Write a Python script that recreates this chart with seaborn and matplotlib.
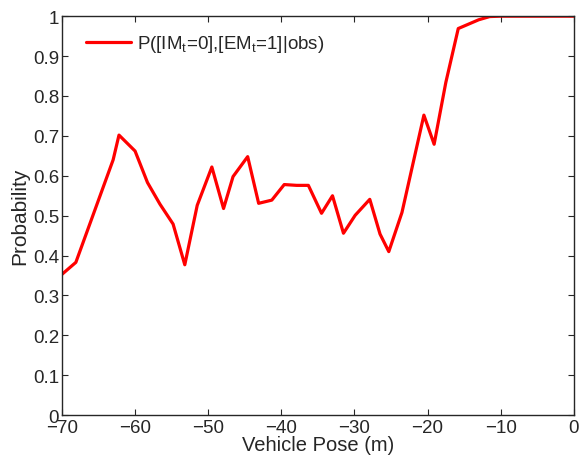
import numpy as np
import pandas as pd
import matplotlib
matplotlib.use("Agg")
import matplotlib.pyplot as plt
import seaborn as sns

# Values
pose = [-70, -68.1, -63.0, -62.2, -60.0, -58.3, -56.6, -54.8, -53.2, -51.5,
        -49.5, -47.9, -46.6, -44.6, -43.1, -41.3, -39.6, -37.9, -36.3, -34.5,
        -33.0, -31.5, -29.9, -27.9, -26.5, -25.3, -23.5, -20.5, -19.1, -17.5,
        -15.8, -13.0, -11.5, -10.0, -5.0, 0.0]
prob = [0.353, 0.383, 0.640, 0.702, 0.662, 0.583, 0.529, 0.479, 0.377, 0.526,
        0.622, 0.518, 0.598, 0.648, 0.531, 0.539, 0.578, 0.576, 0.576, 0.506,
        0.550, 0.456, 0.501, 0.541, 0.454, 0.410, 0.508, 0.752, 0.679, 0.834,
        0.969, 0.991, 0.999, 1.0, 1.0, 1.0]
series_label = r"P([IM$_\mathrm{t}$=0],[EM$_\mathrm{t}$=1]|obs)"

df = pd.DataFrame({"pose": pose, "prob": prob})

sns.set_style("ticks")
plt.rcParams["font.family"] = ["Liberation Sans", "DejaVu Sans"]
plt.rcParams["mathtext.fontset"] = "custom"
plt.rcParams["mathtext.rm"] = "Liberation Sans"
plt.rcParams["mathtext.it"] = "Liberation Sans:italic"

fig = plt.figure(figsize=(5.79, 4.64), dpi=100)
ax = fig.add_axes([0.107, 0.103, 0.884, 0.860])

sns.lineplot(data=df, x="pose", y="prob", color="#ff0000", linewidth=2.3,
             label=series_label, ax=ax)

ax.set_xlim(-70, 0)
ax.set_ylim(0, 1)
ax.set_xticks(np.arange(-70, 1, 10))
ax.set_yticks(np.arange(0, 1.01, 0.1))
ax.set_yticklabels(["0", "0.1", "0.2", "0.3", "0.4", "0.5", "0.6", "0.7", "0.8", "0.9", "1"])
ax.tick_params(direction="in", top=True, right=True, labelsize=13.5, length=4, width=0.8)
ax.tick_params(axis="x", pad=3)
ax.tick_params(axis="y", pad=2)
for s in ax.spines.values():
    s.set_linewidth(1.0)
    s.set_visible(True)
ax.set_xlabel("Vehicle Pose (m)", fontsize=14.5, labelpad=-1)
ax.set_ylabel("Probability", fontsize=15, labelpad=3)
ax.legend(loc="upper left", frameon=False, fontsize=13.5, handlelength=2.4,
          handletextpad=0.3, borderaxespad=0.9, bbox_to_anchor=(0.0, 1.018))

fig.savefig("out.png", dpi=100)
